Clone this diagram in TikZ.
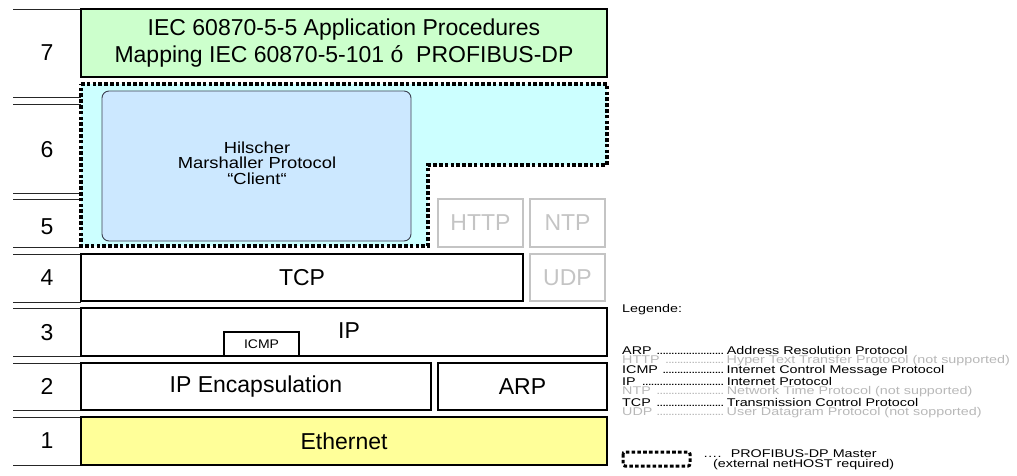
\documentclass[tikz,border=0pt]{standalone}
\usepackage{fontspec}
\setmainfont{Liberation Sans}
\newfontfamily\legfont[FakeStretch=1.28]{Liberation Sans}
\newfontfamily\hilfont[FakeStretch=1.15]{Liberation Sans}
\newfontfamily\icmpfont[FakeStretch=1.12]{Liberation Sans}
\definecolor{appgreen}{HTML}{CCFFCC}
\definecolor{dpcyan}{HTML}{CCFFFF}
\definecolor{hilblue}{HTML}{CCE8FF}
\definecolor{ethyellow}{HTML}{FFFF99}
\definecolor{offgray}{HTML}{C4C4C4}
\definecolor{leggray}{HTML}{B8B8B8}
\definecolor{hilborder}{HTML}{3C4050}
\newcommand{\legdots}[1]{\makebox[103pt][l]{#1\ \leaders\hbox to 2.9pt{\hss.\hss}\hfill}\hspace{1.5pt}}
\tikzset{
  layerbox/.style={draw=black, line width=1.8pt, inner sep=0pt, font=\fontsize{23}{24}\selectfont},
  offbox/.style={draw=offgray, line width=1.5pt, inner sep=0pt, text=offgray, font=\fontsize{23}{24}\selectfont},
  layernum/.style={inner sep=0pt, font=\fontsize{23}{24}\selectfont},
  sepline/.style={line width=0.9pt, draw=black!85},
  dpdash/.style={draw=black, line width=3.4pt, dash pattern=on 3.6pt off 2.2pt},
  legrow/.style={anchor=west, inner sep=0pt, font=\legfont\fontsize{11.2}{10.5}\selectfont},
}
\begin{document}
\begin{tikzpicture}[x=1pt,y=-1pt]
\useasboundingbox (0,0) rectangle (1017,475);

% left separator lines
\foreach \yy in {9,97,104,193,199,247,254,302,308,356,363,410,417,465}
  \draw[sepline] (13,\yy) -- (81,\yy);

% layer numbers
\node[layernum] (n7) at (47,53) {7};
\node[layernum] (n6) at (47,150) {6};
\node[layernum] (n5) at (47,227) {5};
\node[layernum] (n4) at (47,278) {4};
\node[layernum] (n3) at (47,333) {3};
\node[layernum] (n2) at (47,386) {2};
\node[layernum] (n1) at (47,441) {1};

% layer 7
\node[layerbox, fill=appgreen, minimum width=526pt, minimum height=68pt, align=center,
      font=\fontsize{23}{26.5}\selectfont] (app) at (344,43)
  {IEC 60870-5-5 Application Procedures\\Mapping IEC 60870-5-101 ó~ PROFIBUS-DP};

% PROFIBUS-DP master region (layers 5-6)
\path[fill=dpcyan] (81,84) -- (607,84) -- (607,165) -- (428,165) -- (428,246) -- (81,246) -- cycle;
\draw[dpdash] (81,84) -- (607,84) -- (607,165) -- (428,165) -- (428,246) -- (81,246) -- cycle;

\node[draw=hilborder, line width=0.9pt, rounded corners=7pt, fill=hilblue,
      minimum width=309pt, minimum height=150pt, inner sep=0pt] (hil) at (256.5,166) {};
\node[inner sep=0pt, align=center, font=\hilfont\fontsize{16}{15.5}\selectfont] (hiltext) at (257,163)
  {Hilscher\\Marshaller Protocol\\“Client“};

\node[offbox, minimum width=85pt, minimum height=48pt] (http) at (480.5,223) {HTTP};
\node[offbox, minimum width=75pt, minimum height=48pt] (ntp) at (567.5,223) {NTP};

% layer 4
\node[layerbox, minimum width=442pt, minimum height=47pt] (tcp) at (302,277.5) {TCP};
\node[offbox, minimum width=75pt, minimum height=47pt] (udp) at (567.5,277.5) {UDP};

% layer 3
\node[layerbox, minimum width=526pt, minimum height=48pt] (ip) at (344,332) {};
\node[inner sep=0pt, font=\fontsize{23}{24}\selectfont] (iptext) at (349,331) {IP};
\node[draw=black, line width=1.8pt, fill=white, minimum width=75pt, minimum height=24pt, inner sep=0pt,
      font=\icmpfont\fontsize{12.5}{13}\selectfont] (icmp) at (261.5,344) {ICMP};

% layer 2
\node[layerbox, minimum width=350pt, minimum height=47pt] (ipenc) at (256,386.5) {IP Encapsulation};
\node[layerbox, minimum width=169pt, minimum height=47pt] (arp) at (522.5,386.5) {ARP};

% layer 1
\node[layerbox, fill=ethyellow, minimum width=526pt, minimum height=48pt] (eth) at (344,441) {Ethernet};

% legend
\node[legrow] (leg) at (622,310) {Legende:};
\node[legrow] (lARP) at (622,350) {\legdots{ARP}Address Resolution Protocol};
\node[legrow, text=leggray] (lHTTP) at (622,360.5) {\legdots{HTTP}Hyper Text Transfer Protocol (not supported)};
\node[legrow] (lICMP) at (622,371) {\legdots{ICMP}Internet Control Message Protocol};
\node[legrow] (lIP) at (622,381.5) {\legdots{IP}Internet Protocol};
\node[legrow, text=leggray] (lNTP) at (622,392) {\legdots{NTP}Network Time Protocol (not supported)};
\node[legrow] (lTCP) at (622,402.5) {\legdots{TCP}Transmission Control Protocol};
\node[legrow, text=leggray] (lUDP) at (622,413) {\legdots{UDP}User Datagram Protocol (not sopported)};

\draw[dpdash, line width=3pt, rounded corners=2pt] (623,452) rectangle (690,466);
\node[legrow] (lDP) at (703,454) {…. \ PROFIBUS-DP Master};
\node[legrow] (lDP2) at (713,465) {(external netHOST required)};
\end{tikzpicture}
\end{document}
